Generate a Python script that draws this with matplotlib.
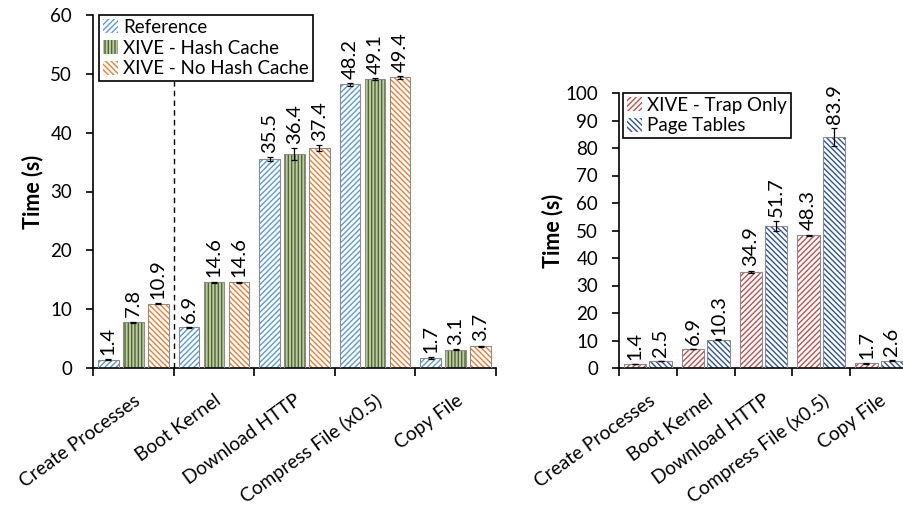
import matplotlib
matplotlib.use("Agg")
import matplotlib.pyplot as plt
import matplotlib.transforms as mtransforms
from matplotlib.patches import Patch
import numpy as np

plt.rcParams['font.family'] = ['Lato', 'DejaVu Sans']
plt.rcParams['hatch.linewidth'] = 1.0

categories = ["Create Processes", "Boot Kernel", "Download HTTP", "Compress File (x0.5)", "Copy File"]

left_series = ["Reference", "XIVE - Hash Cache", "XIVE - No Hash Cache"]
left_values = [
    [1.4, 6.9, 35.5, 48.2, 1.7],
    [7.8, 14.6, 36.4, 49.1, 3.1],
    [10.9, 14.6, 37.4, 49.4, 3.7],
]
left_errors = [
    [0.1, 0.1, 0.3, 0.2, 0.1],
    [0.1, 0.1, 1.0, 0.2, 0.1],
    [0.1, 0.1, 0.5, 0.2, 0.1],
]

right_series = ["XIVE - Trap Only", "Page Tables"]
right_values = [
    [1.4, 6.9, 34.9, 48.3, 1.7],
    [2.5, 10.3, 51.7, 83.9, 2.6],
]
right_errors = [
    [0.1, 0.1, 0.5, 0.2, 0.1],
    [0.1, 0.2, 1.8, 3.2, 0.2],
]

left_styles = [
    dict(face="white", hatchc="#5B9BD5", hatch="//////"),
    dict(face="#BCC9AA", hatchc="#506A2A", hatch="|||||"),
    dict(face="white", hatchc="#ED7D31", hatch="\\\\\\\\\\\\"),
]
right_styles = [
    dict(face="white", hatchc="#C0504D", hatch="//////"),
    dict(face="white", hatchc="#2E5597", hatch="\\\\\\\\\\\\"),
]

W, H = 904, 515
fig = plt.figure(figsize=(W / 100, H / 100), dpi=100)
axL = fig.add_axes([93 / W, (H - 368) / H, (496 - 93) / W, (368 - 15) / H])
axR = fig.add_axes([619 / W, (H - 368) / H, 289 / W, (368 - 93) / H])

FS = 13.5
XFS = 13.8
VFS = 14.5
ANG = 36


def draw(ax, values, errors, styles, offsets, width, ymax, ystep):
    x = np.arange(len(categories))
    for vals, errs, st, off in zip(values, errors, styles, offsets):
        xs = x + off
        ax.bar(xs, vals, width, color=st["face"], edgecolor=st["hatchc"],
               hatch=st["hatch"], linewidth=0, zorder=2)
        ax.bar(xs, vals, width, fill=False, edgecolor="#8C8C8C",
               linewidth=0.8, zorder=3)
        ax.errorbar(xs, vals, yerr=errs, fmt="none", ecolor="black",
                    elinewidth=0.9, capsize=2.5, capthick=0.9, zorder=4)
        for xi, v, e in zip(xs, vals, errs):
            ax.annotate(f"{v:.1f}", (xi, v + e), xytext=(0, 3),
                        textcoords="offset points", rotation=90,
                        ha="center", va="bottom", fontsize=VFS, zorder=5)
    ax.set_xlim(-0.5, len(categories) - 0.5)
    ax.set_ylim(0, ymax)
    ax.set_yticks(np.arange(0, ymax + 0.1, ystep))
    ax.set_xticks(np.arange(-0.5, len(categories), 1.0))
    ax.set_xticklabels([])
    ax.set_xticks(x, minor=True)
    ax.set_xticklabels(categories, minor=True, rotation=ANG, ha="right",
                       rotation_mode="anchor", fontsize=XFS)
    shift = mtransforms.ScaledTranslation(3 / 100, 0, fig.dpi_scale_trans)
    for lab in ax.get_xticklabels(minor=True):
        lab.set_transform(lab.get_transform() + shift)
    ax.tick_params(axis="x", which="minor", length=0, pad=17)
    ax.tick_params(axis="x", which="major", direction="out", length=6, width=1.2)
    ax.tick_params(axis="y", direction="out", length=5, width=1.2, labelsize=FS, pad=10)
    for s in ["top", "right"]:
        ax.spines[s].set_visible(False)
    for s in ["left", "bottom"]:
        ax.spines[s].set_linewidth(1.2)
    ax.set_ylabel("Time (s)", fontsize=15.5, fontweight="bold")


draw(axL, left_values, left_errors, left_styles, [-0.31, 0.0, 0.31], 0.254, 60, 10)
draw(axR, right_values, right_errors, right_styles, [-0.22, 0.22], 0.39, 100, 10)

axL.axvline(0.5, color="black", linestyle=(0, (4, 3)), linewidth=1.0, zorder=1)
axL.yaxis.set_label_coords(-0.124, 0.5)
axR.yaxis.set_label_coords(-0.194, 0.5)


def legend(ax, labels, styles, loc_anchor):
    handles = []
    for st in styles:
        handles.append(Patch(facecolor=st["face"], edgecolor=st["hatchc"], hatch=st["hatch"], linewidth=0))
    leg = ax.legend(handles, labels, loc="upper left", bbox_to_anchor=loc_anchor,
                    fontsize=FS, frameon=True, fancybox=False, framealpha=1,
                    edgecolor="black", handlelength=0.8, handleheight=0.8,
                    handletextpad=0.3, borderpad=0.2, labelspacing=0.2,
                    borderaxespad=0)
    leg.get_frame().set_linewidth(1.2)
    leg.set_zorder(10)
    return leg


legend(axL, left_series, left_styles, (6 / 403, 1.0))
legend(axR, right_series, right_styles, (4 / 289, 1.0))

fig.savefig("out.png", dpi=100)
